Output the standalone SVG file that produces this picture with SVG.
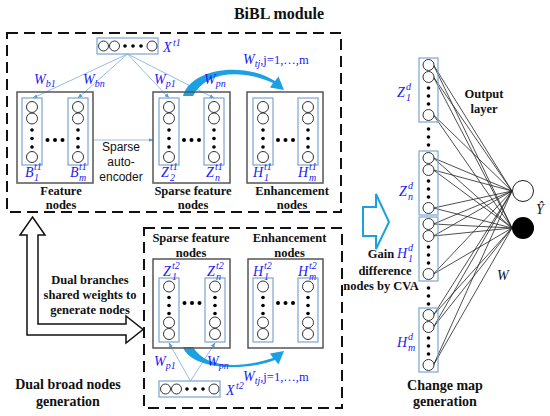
<svg xmlns="http://www.w3.org/2000/svg" xmlns:xlink="http://www.w3.org/1999/xlink" width="550" height="416" viewBox="0 0 550 416">
<style>
.tb{font-family:"Liberation Serif","Times New Roman",serif;font-weight:bold;font-size:12.5px;fill:#111;text-anchor:middle}
.tl{font-size:14px}
.ss{font-family:"Liberation Sans",Arial,sans-serif;font-size:12px;fill:#111;text-anchor:middle}
.m{font-family:"Liberation Serif","Times New Roman",serif;font-style:italic;font-size:14px;fill:#2020f5}
.r{font-style:normal;font-size:12.5px}
.s{font-size:10px}
.k{fill:#111}
.dash{fill:none;stroke:#111;stroke-width:2;stroke-dasharray:11 6}
.gb{fill:none;stroke:#555;stroke-width:1.5}
.br{fill:none;stroke:#7aa6d2;stroke-width:1.2}
.c{fill:#fff;stroke:#333;stroke-width:1}
.d{fill:#000}
.lb{stroke:#8ab6e2;stroke-width:0.9;fill:none}
.nl{stroke:#222;stroke-width:0.8;fill:none}
.cy{fill:#1ba1e2}
</style>
<defs>
<marker id="ah" viewBox="0 0 10 10" refX="9" refY="5" markerWidth="5" markerHeight="5" markerUnits="userSpaceOnUse" orient="auto"><path d="M0,1 L10,5 L0,9 Z" fill="#5b9bd5"/></marker>
<g id="colT"><rect class="br" x="0" y="0" width="20" height="67"/><circle class="c" cx="10" cy="9" r="5.5"/><circle class="c" cx="10" cy="20.5" r="5.5"/><circle class="d" cx="10" cy="32" r="1.8"/><circle class="d" cx="10" cy="40.5" r="1.8"/><circle class="d" cx="10" cy="49" r="1.8"/><circle class="c" cx="10" cy="59" r="5.5"/></g>
<g id="colB"><rect class="br" x="0" y="0" width="20" height="64"/><circle class="c" cx="10" cy="8.5" r="5.5"/><circle class="d" cx="10" cy="19.5" r="1.8"/><circle class="d" cx="10" cy="27.5" r="1.8"/><circle class="d" cx="10" cy="35.5" r="1.8"/><circle class="c" cx="10" cy="44.5" r="5.5"/><circle class="c" cx="10" cy="56" r="5.5"/></g>
<g id="colR"><rect class="br" x="0" y="0" width="19" height="64"/><circle class="c" cx="9.5" cy="7" r="5.5"/><circle class="c" cx="9.5" cy="19" r="5.5"/><circle class="d" cx="9.5" cy="30" r="1.8"/><circle class="d" cx="9.5" cy="38" r="1.8"/><circle class="d" cx="9.5" cy="46" r="1.8"/><circle class="c" cx="9.5" cy="57" r="5.5"/></g>
<g id="hd"><circle class="d" cx="-7.5" cy="0" r="2"/><circle class="d" cx="0" cy="0" r="2"/><circle class="d" cx="7.5" cy="0" r="2"/></g>
<g id="vd"><circle class="d" cx="0" cy="-8" r="1.8"/><circle class="d" cx="0" cy="0" r="1.8"/><circle class="d" cx="0" cy="8" r="1.8"/></g>
<g id="xin"><rect class="br" x="0" y="0" width="61" height="16"/><circle class="c" cx="6.5" cy="8" r="5"/><circle class="c" cx="17.5" cy="8" r="5"/><circle class="d" cx="28" cy="8" r="1.8"/><circle class="d" cx="36" cy="8" r="1.8"/><circle class="d" cx="44" cy="8" r="1.8"/><circle class="c" cx="55" cy="8" r="5"/></g>
</defs>

<g id="bibl-module">
<rect class="dash" x="7" y="33" width="334" height="179"/>
<text class="tb" x="279" y="19" style="font-size:16px">BiBL module</text>
</g>

<g id="dual-module">
<rect class="dash" x="144" y="228" width="198" height="180"/>
</g>

<g id="connectors">
<line class="lb" x1="127.5" y1="54" x2="33" y2="98" marker-end="url(#ah)"/>
<line class="lb" x1="127.5" y1="54" x2="78" y2="98" marker-end="url(#ah)"/>
<line class="lb" x1="127.5" y1="54" x2="169" y2="98" marker-end="url(#ah)"/>
<line class="lb" x1="127.5" y1="54" x2="214" y2="98" marker-end="url(#ah)"/>
<line class="lb" x1="93" y1="140" x2="153" y2="140" marker-end="url(#ah)"/>
<line class="lb" x1="190.5" y1="381" x2="169" y2="343" marker-end="url(#ah)"/>
<line class="lb" x1="190.5" y1="381" x2="215" y2="343" marker-end="url(#ah)"/>
<path class="cy" d="M183 96 C190 70 240 60 275 81 L278.5 76.5 L284 90 L270 87.5 L273 83 C240 68 205 72 193 96 Z"/>
<path class="cy" d="M183 347 C190 368 240 373 275 360 L278.5 364.5 L284 351 L270 353.5 L273 358 C240 369 205 368 193 347 Z"/>
<path d="M32.5 217 L45 235 L38 235 L38 324 L126 324 L126 316 L143 329.5 L126 343 L126 335 L27 335 L27 235 L20 235 Z" fill="#fff" stroke="#111" stroke-width="1.5" stroke-linejoin="miter"/>
<path d="M363 207 L376 207 L376 194 L389 222 L376 249 L376 236 L363 236 Z" fill="#fff" stroke="#1ba1e2" stroke-width="2"/>
<g class="nl">
<line x1="433.5" y1="65" x2="512" y2="191"/><line x1="433.5" y1="65" x2="512" y2="228"/>
<line x1="433.5" y1="77" x2="512" y2="191"/><line x1="433.5" y1="77" x2="512" y2="228"/>
<line x1="433.5" y1="115" x2="512" y2="191"/><line x1="433.5" y1="115" x2="512" y2="228"/>
<line x1="433.5" y1="158" x2="512" y2="191"/><line x1="433.5" y1="158" x2="512" y2="228"/>
<line x1="433.5" y1="170" x2="512" y2="191"/><line x1="433.5" y1="170" x2="512" y2="228"/>
<line x1="433.5" y1="208" x2="512" y2="191"/><line x1="433.5" y1="208" x2="512" y2="228"/>
<line x1="433.5" y1="224" x2="512" y2="191"/><line x1="433.5" y1="224" x2="512" y2="228"/>
<line x1="433.5" y1="236" x2="512" y2="191"/><line x1="433.5" y1="236" x2="512" y2="228"/>
<line x1="433.5" y1="274" x2="512" y2="191"/><line x1="433.5" y1="274" x2="512" y2="228"/>
<line x1="433.5" y1="315" x2="512" y2="191"/><line x1="433.5" y1="315" x2="512" y2="228"/>
<line x1="433.5" y1="327" x2="512" y2="191"/><line x1="433.5" y1="327" x2="512" y2="228"/>
<line x1="433.5" y1="365" x2="512" y2="191"/><line x1="433.5" y1="365" x2="512" y2="228"/>
</g>
</g>

<g id="input-t1">
<use xlink:href="#xin" x="97" y="38"/>
<text class="m"><tspan x="163" y="52">X</tspan><tspan class="s" x="173" y="46">t1</tspan></text>
</g>

<g id="weight-labels-t1">
<text class="m" x="34" y="84">W<tspan class="s" dy="3">b1</tspan></text>
<text class="m" x="83" y="84">W<tspan class="s" dy="3">bn</tspan></text>
<text class="m" x="154" y="84">W<tspan class="s" dy="3">p1</tspan></text>
<text class="m" x="204" y="84">W<tspan class="s" dy="3">pn</tspan></text>
<text class="m" x="243" y="64">W<tspan class="s" dy="3">tj</tspan><tspan class="r" dy="-3">,j=1,…,m</tspan></text>
</g>

<g id="feature-nodes">
<rect class="gb" x="17" y="92" width="76" height="91"/>
<use xlink:href="#colT" x="22" y="98"/>
<use xlink:href="#colT" x="68" y="98"/>
<use xlink:href="#hd" x="55" y="140"/>
<text class="m"><tspan x="25" y="177">B</tspan><tspan class="s" x="34" y="170">t1</tspan><tspan class="s" x="34" y="181">1</tspan></text>
<text class="m"><tspan x="70" y="177">B</tspan><tspan class="s" x="79" y="170">t1</tspan><tspan class="s" x="79" y="181">m</tspan></text>
<text class="tb" x="61" y="195">Feature</text>
<text class="tb" x="61" y="209">nodes</text>
</g>

<g id="sparse-autoencoder-label">
<text class="ss" x="121" y="151">Sparse</text>
<text class="ss" x="121" y="166">auto-</text>
<text class="ss" x="121" y="181">encoder</text>
</g>

<g id="sparse-nodes-t1">
<rect class="gb" x="153" y="92" width="77" height="91"/>
<use xlink:href="#colT" x="159" y="98"/>
<use xlink:href="#colT" x="204" y="98"/>
<use xlink:href="#hd" x="191.5" y="140"/>
<text class="m"><tspan x="161" y="177">Z</tspan><tspan class="s" x="170" y="170">t1</tspan><tspan class="s" x="170" y="181">2</tspan></text>
<text class="m"><tspan x="206" y="177">Z</tspan><tspan class="s" x="215" y="170">t1</tspan><tspan class="s" x="215" y="181">n</tspan></text>
<text class="tb" x="193" y="195">Sparse feature</text>
<text class="tb" x="193" y="209">nodes</text>
</g>

<g id="enhancement-nodes-t1">
<rect class="gb" x="247" y="92" width="76" height="91"/>
<use xlink:href="#colT" x="253" y="98"/>
<use xlink:href="#colT" x="298" y="98"/>
<use xlink:href="#hd" x="285.5" y="140"/>
<text class="m"><tspan x="253" y="177">H</tspan><tspan class="s" x="264" y="170">t1</tspan><tspan class="s" x="264" y="181">1</tspan></text>
<text class="m"><tspan x="298" y="177">H</tspan><tspan class="s" x="309" y="170">t1</tspan><tspan class="s" x="309" y="181">m</tspan></text>
<text class="tb" x="292" y="195">Enhancement</text>
<text class="tb" x="292" y="209">nodes</text>
</g>

<g id="dual-branches-label">
<text class="tb" x="90" y="284">Dual branches</text>
<text class="tb" x="90" y="299">shared weights to</text>
<text class="tb" x="90" y="314">generate nodes</text>
<text class="tb tl" x="68" y="389">Dual broad nodes</text>
<text class="tb tl" x="68" y="406">generation</text>
</g>

<g id="sparse-nodes-t2">
<text class="tb" x="191" y="242">Sparse feature</text>
<text class="tb" x="191" y="257">nodes</text>
<rect class="gb" x="153" y="259" width="77" height="89"/>
<use xlink:href="#colB" x="159" y="278"/>
<use xlink:href="#colB" x="205" y="278"/>
<use xlink:href="#hd" x="192" y="303"/>
<text class="m"><tspan x="163" y="276">Z</tspan><tspan class="s" x="172" y="269">t2</tspan><tspan class="s" x="172" y="280">1</tspan></text>
<text class="m"><tspan x="207" y="276">Z</tspan><tspan class="s" x="216" y="269">t2</tspan><tspan class="s" x="216" y="280">n</tspan></text>
</g>

<g id="enhancement-nodes-t2">
<text class="tb" x="289.5" y="242">Enhancement</text>
<text class="tb" x="289.5" y="257">nodes</text>
<rect class="gb" x="248" y="259" width="75" height="89"/>
<use xlink:href="#colB" x="253" y="278"/>
<use xlink:href="#colB" x="298" y="278"/>
<use xlink:href="#hd" x="285.5" y="303"/>
<text class="m"><tspan x="253" y="276">H</tspan><tspan class="s" x="264" y="269">t2</tspan><tspan class="s" x="264" y="280">1</tspan></text>
<text class="m"><tspan x="298" y="276">H</tspan><tspan class="s" x="309" y="269">t2</tspan><tspan class="s" x="309" y="280">m</tspan></text>
</g>

<g id="input-t2">
<use xlink:href="#xin" x="159" y="381"/>
<text class="m"><tspan x="226" y="395">X</tspan><tspan class="s" x="236" y="389">t2</tspan></text>
</g>

<g id="weight-labels-t2">
<text class="m" x="154" y="366">W<tspan class="s" dy="3">p1</tspan></text>
<text class="m" x="207" y="366">W<tspan class="s" dy="3">pn</tspan></text>
<text class="m" x="243" y="381">W<tspan class="s" dy="3">tj</tspan><tspan class="r" dy="-3">,j=1,…,m</tspan></text>
</g>

<g id="cva-label">
<text class="tb" x="381" y="258">Gain</text>
<text class="tb" x="385" y="275">difference</text>
<text class="tb" x="381" y="290">nodes by CVA</text>
</g>

<g id="difference-nodes">
<use xlink:href="#colR" x="419" y="58"/>
<use xlink:href="#vd" x="428.5" y="137"/>
<use xlink:href="#colR" x="419" y="151"/>
<use xlink:href="#colR" x="419" y="217"/>
<use xlink:href="#vd" x="428.5" y="296"/>
<use xlink:href="#colR" x="419" y="308"/>
<text class="m"><tspan x="397" y="97">Z</tspan><tspan class="s" x="406" y="90">d</tspan><tspan class="s" x="406" y="101">1</tspan></text>
<text class="m"><tspan x="399" y="196">Z</tspan><tspan class="s" x="408" y="189">d</tspan><tspan class="s" x="408" y="200">n</tspan></text>
<text class="m"><tspan x="397" y="258">H</tspan><tspan class="s" x="408" y="251">d</tspan><tspan class="s" x="408" y="262">1</tspan></text>
<text class="m"><tspan x="397" y="347">H</tspan><tspan class="s" x="408" y="340">d</tspan><tspan class="s" x="408" y="351">m</tspan></text>
</g>

<g id="output-layer">
<circle cx="523" cy="191" r="10.5" fill="#fff" stroke="#222" stroke-width="1"/>
<circle cx="523" cy="228" r="11" fill="#000"/>
<text class="tb" x="484" y="98">Output</text>
<text class="tb" x="484" y="113">layer</text>
<text class="m k" x="536" y="214">Ŷ</text>
<text class="m k" x="497" y="280">W</text>
<text class="tb tl" x="445" y="390">Change map</text>
<text class="tb tl" x="445" y="406">generation</text>
</g>
</svg>
